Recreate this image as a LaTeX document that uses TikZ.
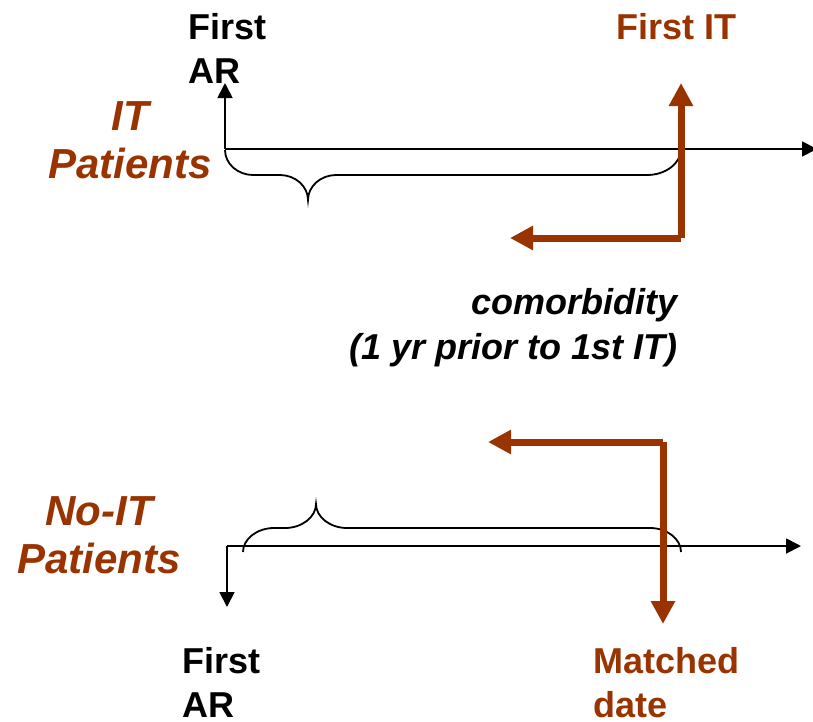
\documentclass[tikz,border=0pt]{standalone}
\usepackage{fontspec}
\setmainfont{Liberation Sans}
\usetikzlibrary{arrows.meta}
\definecolor{itbrown}{RGB}{153,51,0}
\tikzset{
  tlabel/.style={font=\fontsize{36}{44}\selectfont\bfseries, inner sep=0pt, align=left},
  brownlabel/.style={tlabel, text=itbrown},
  grouplabel/.style={font=\fontsize{42}{48}\selectfont\bfseries\itshape, text=itbrown, inner sep=0pt, align=center},
  notelabel/.style={font=\fontsize{36}{45}\selectfont\bfseries\itshape, inner sep=0pt, align=right},
  axisline/.style={line width=1.8pt, -{Triangle[length=15pt,width=15pt]}},
  braceline/.style={line width=1.8pt},
  itarrow/.style={line width=7pt, draw=itbrown, -{Triangle[length=23pt,width=23pt]}}
}
\begin{document}
\begin{tikzpicture}[x=1pt,y=-1pt]
\clip (0,0) rectangle (813,721);
\fill[white] (0,0) rectangle (813,721);

% ---------- IT patients ----------
\node[tlabel, anchor=north west] (firstAR1) at (188,13) {First\\AR};
\node[brownlabel, anchor=north west] (firstIT) at (616,13) {First IT};
\node[grouplabel, anchor=north] (itpat) at (130,101) {IT\\Patients};
\node[notelabel, anchor=north east] (comorb) at (678,288) {comorbidity\\(1 yr prior to 1st IT)};

\coordinate (o1) at (225,149);
\coordinate (ar1tip) at (225,83);
\coordinate (ax1end) at (817,149);
\coordinate (c1) at (681,238);
\coordinate (it1tip) at (681,83);
\coordinate (it1left) at (510,238);

\draw[axisline] (o1) -- (ax1end);
\draw[axisline] (o1) -- (ar1tip);
\draw[braceline] (225,150) .. controls (225,164) and (238,175) .. (253,175)
  -- (280,175) .. controls (295,175) and (308,186) .. (308,200)
  .. controls (308,186) and (321,175) .. (336,175)
  -- (647,175) .. controls (666,175) and (681,163) .. (681,149);
\draw[itarrow] (c1) -- (it1tip);
\draw[itarrow] (c1) -- (it1left);

% ---------- No-IT patients ----------
\node[grouplabel, anchor=north] (noitpat) at (99,496) {No-IT\\Patients};
\node[tlabel, anchor=north west] (firstAR2) at (182,647) {First\\AR};
\node[brownlabel, anchor=north west] (matched) at (593,647) {Matched\\date};

\coordinate (o2) at (227,546);
\coordinate (ar2tip) at (227,607);
\coordinate (ax2end) at (801,546);
\coordinate (c2) at (663,442);
\coordinate (md2tip) at (663,624);
\coordinate (it2left) at (488,442);

\draw[axisline] (o2) -- (ax2end);
\draw[axisline] (o2) -- (ar2tip);
\draw[braceline] (243,552) .. controls (243,539) and (257,528) .. (274,528)
  -- (285,528) .. controls (302,528) and (316,517) .. (316,504)
  .. controls (316,517) and (330,528) .. (347,528)
  -- (650,528) .. controls (667,528) and (681,539) .. (681,552);
\draw[itarrow] (c2) -- (md2tip);
\draw[itarrow] (c2) -- (it2left);
\end{tikzpicture}
\end{document}
